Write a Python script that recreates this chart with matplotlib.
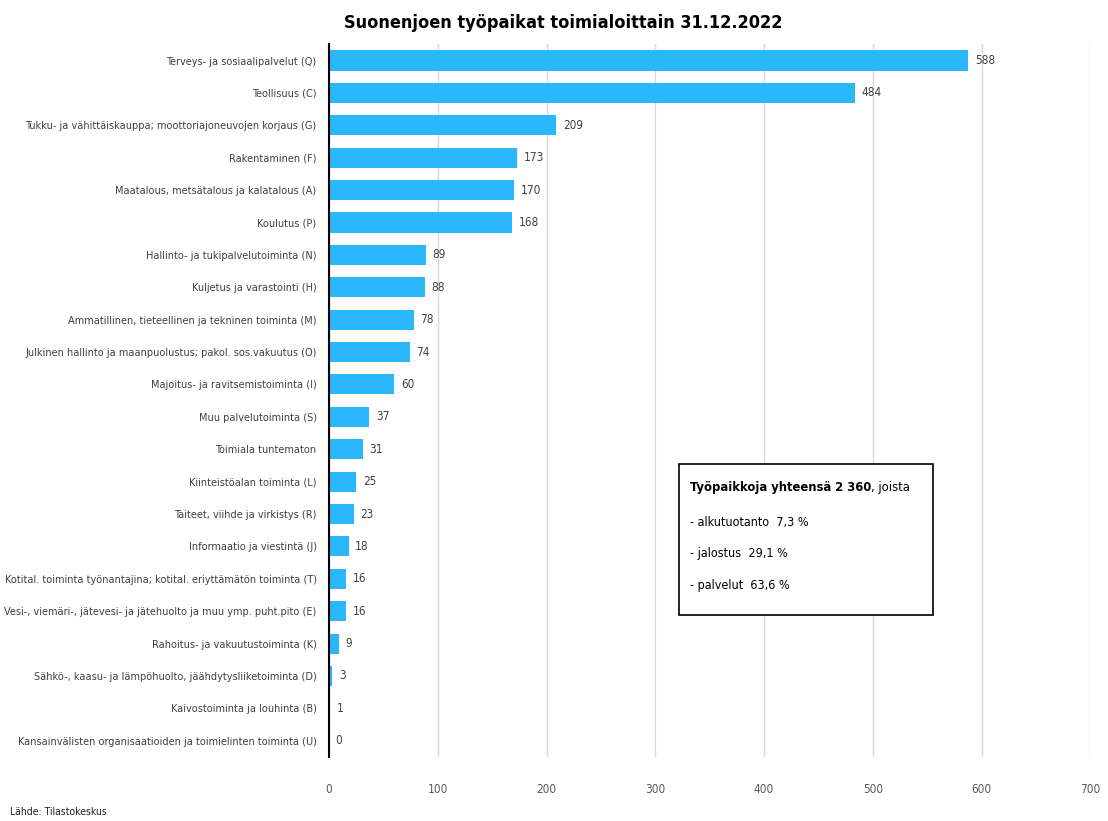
import matplotlib.pyplot as plt
import numpy as np

categories = [
    'Terveys- ja sosiaalipalvelut (Q)',
    'Teollisuus (C)',
    'Tukku- ja vähittäiskauppa; moottoriajoneuvojen korjaus (G)',
    'Rakentaminen (F)',
    'Maatalous, metsätalous ja kalatalous (A)',
    'Koulutus (P)',
    'Hallinto- ja tukipalvelutoiminta (N)',
    'Kuljetus ja varastointi (H)',
    'Ammatillinen, tieteellinen ja tekninen toiminta (M)',
    'Julkinen hallinto ja maanpuolustus; pakol. sos.vakuutus (O)',
    'Majoitus- ja ravitsemistoiminta (I)',
    'Muu palvelutoiminta (S)',
    'Toimiala tuntematon',
    'Kiinteistöalan toiminta (L)',
    'Taiteet, viihde ja virkistys (R)',
    'Informaatio ja viestintä (J)',
    'Kotital. toiminta työnantajina; kotital. eriyttämätön toiminta (T)',
    'Vesi-, viemäri-, jätevesi- ja jätehuolto ja muu ymp. puht.pito (E)',
    'Rahoitus- ja vakuutustoiminta (K)',
    'Sähkö-, kaasu- ja lämpöhuolto, jäähdytysliiketoiminta (D)',
    'Kaivostoiminta ja louhinta (B)',
    'Kansainvälisten organisaatioiden ja toimielinten toiminta (U)',
]
values = [588, 484, 209, 173, 170, 168, 89, 88, 78, 74, 60, 37, 31, 25, 23, 18, 16, 16, 9, 3, 1, 0]
x_ticks = [0, 100, 200, 300, 400, 500, 600, 700]

info_head = 'Työpaikkoja yhteensä 2 360'
info_lines = ['- alkutuotanto  7,3 %', '- jalostus  29,1 %', '- palvelut  63,6 %']

plt.rcParams['font.family'] = ['DejaVu Sans']
plt.rcParams['font.stretch'] = 'condensed'

fig = plt.figure(figsize=(11.08, 8.21), dpi=100)
ax = fig.add_axes([0.297, 0.078, 0.687, 0.868])

y = np.arange(len(categories))
ax.barh(y, values, height=0.62, color='#2bb7fb', zorder=3)
for yi, v in zip(y, values):
    ax.text(v + 6, yi, str(v), va='center', ha='left', fontsize=8.5, color='#404040')

ax.set_yticks(y)
ax.set_yticklabels(categories, fontsize=7.8, color='#404040')
ax.set_ylim(len(categories) - 0.5, -0.5)
ax.set_xlim(0, 700)
ax.set_xticks(x_ticks)
ax.set_xticklabels([str(t) for t in x_ticks], fontsize=8.5, color='#595959')
ax.tick_params(axis='both', length=0)
ax.tick_params(axis='x', pad=19)
ax.tick_params(axis='y', pad=9)
ax.grid(axis='x', color='#d9d9d9', linewidth=1, zorder=0)
for s in ['top', 'right', 'bottom']:
    ax.spines[s].set_visible(False)
ax.spines['left'].set_color('black')
ax.spines['left'].set_linewidth(1.5)
ax.spines['left'].set_zorder(4)

fig.text(0.508, 0.972, 'Suonenjoen työpaikat toimialoittain 31.12.2022', ha='center', va='center',
         fontsize=13, fontweight='bold')
fig.text(0.009, 0.011, 'Lähde: Tilastokeskus', ha='left', va='center', fontsize=7.5, color='#202020')

# info box
box = plt.Rectangle((679 / 1108, 1 - 615 / 821), 254 / 1108, 151 / 821, transform=fig.transFigure,
                    facecolor='white', edgecolor='black', linewidth=1.2, zorder=5)
fig.patches.append(box)
head = fig.text(690 / 1108, 1 - 487 / 821, info_head, ha='left', va='center',
                fontsize=9.3, fontweight='bold', zorder=6)
fig.canvas.draw()
bb = head.get_window_extent()
fig.text(bb.x1 / 1108, 1 - 487 / 821, ', joista', ha='left', va='center', fontsize=9.3, zorder=6)
for yy, line in zip([522, 553, 585], info_lines):
    fig.text(690 / 1108, 1 - yy / 821, line, ha='left', va='center', fontsize=9, zorder=6)

fig.savefig('out.png', dpi=100)
